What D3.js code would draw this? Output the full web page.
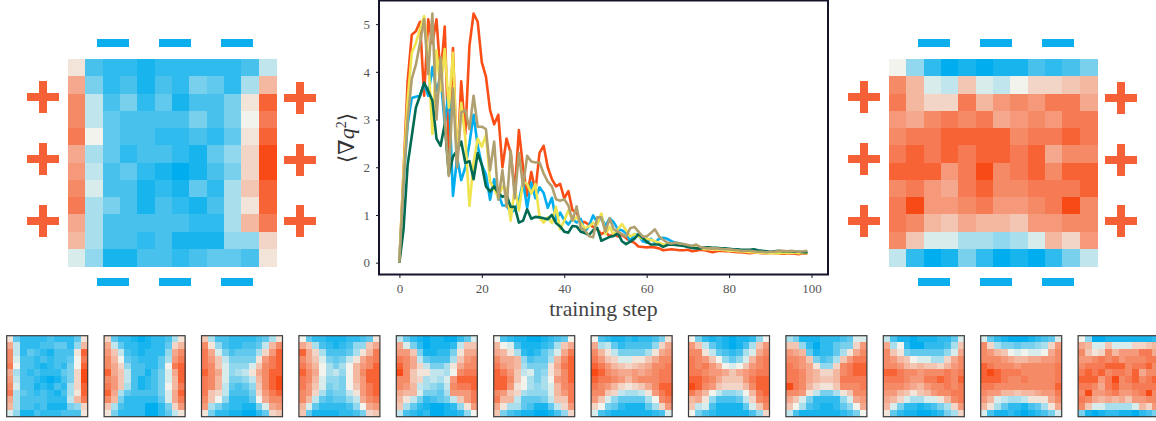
<!DOCTYPE html>
<html>
<head>
<meta charset="utf-8">
<script src="https://cdn.jsdelivr.net/npm/d3@7"></script>
<style>
  html, body { margin: 0; padding: 0; background: #fff; overflow: hidden; }
  svg { display: block; }
</style>
</head>
<body>
<svg id="chart" width="1156" height="421"></svg>
<script>
// training curves, one value per step
const steps = d3.range(100);
const orangeValues = [0,1.9,3.8,4.78,4.85,5.05,3.5,5.1,4.6,5.1,3.9,4.95,2.3,4.5,2.0,3.8,2.7,4.55,5.22,5.05,4.2,3.9,3.2,2.9,3.1,2.0,2.6,2.3,1.5,2.78,2.0,1.4,1.9,1.5,2.3,2.45,2.0,1.75,1.6,1.65,1.35,1.5,1.1,1.05,.85,.85,.8,.75,.7,.6,.65,.55,.6,.55,.58,.52,.45,.42,.34,.33,.32,.33,.32,.3,.26,.27,.28,.27,.26,.26,.27,.24,.25,.27,.26,.24,.22,.24,.25,.24,.24,.23,.22,.22,.21,.2,.21,.21,.2,.2,.21,.2,.2,.19,.19,.2,.19,.18,.2,.19];
const blueValues = [0,1.7,2.9,3.45,3.48,3.5,3.75,3.5,4.1,3.6,3.9,2.9,3.65,1.4,2.2,1.73,2.0,2.5,3.1,2.45,2.05,1.85,1.32,1.75,1.45,1.2,1.2,1.05,1.1,1.3,1.7,1.15,1.68,1.35,1.58,1.46,1.15,1.36,.89,1.05,.89,.8,.92,.84,.92,.65,.77,.99,.84,.95,.77,.93,.85,.7,.68,.62,.45,.6,.58,.45,.42,.5,.42,.5,.52,.5,.45,.42,.4,.38,.36,.35,.34,.32,.3,.3,.3,.29,.28,.28,.28,.27,.26,.25,.25,.26,.25,.24,.24,.23,.22,.22,.24,.23,.23,.22,.22,.21,.22,.22];
const yellowValues = [0,1.9,3.4,4.4,4.6,4.9,5.17,4.3,2.7,4.45,3.6,4.48,3.25,4.4,2.2,3.35,2.6,1.19,2.1,2.6,2.43,2.68,1.7,1.55,1.35,1.6,1.55,.88,1.57,1.1,1.7,1.65,1.45,1.65,.95,.84,.95,.83,1.17,.7,.88,1.1,.88,.95,.83,.72,.76,.83,.8,1.03,.6,.75,.58,.7,.81,.68,.55,.6,.55,.5,.5,.48,.45,.42,.38,.38,.4,.4,.38,.36,.35,.34,.33,.31,.28,.28,.28,.27,.27,.26,.25,.25,.24,.24,.23,.22,.22,.21,.21,.2,.2,.2,.2,.21,.2,.21,.21,.2,.21,.2];
const greenValues = [0,.7,2.05,2.65,3.25,3.5,3.77,3.6,3.4,2.6,2.45,2.9,1.85,2.22,2.35,2.54,2.09,2.13,1.75,2.3,2.05,1.6,1.49,1.6,1.46,1.38,1.42,1.17,1.17,.84,.88,1.12,.92,.96,.95,.93,.91,1.0,.83,.76,.65,.63,.77,.76,.65,.62,.58,.68,.73,.46,.5,.54,.56,.62,.45,.39,.44,.5,.6,.52,.44,.38,.38,.38,.33,.37,.38,.37,.36,.35,.33,.31,.3,.3,.32,.32,.31,.31,.3,.3,.29,.28,.28,.27,.27,.27,.28,.26,.25,.24,.23,.24,.25,.24,.24,.24,.23,.23,.22,.22];
const tanValues = [0,1.7,3.0,3.85,4.15,4.6,5.1,3.95,5.22,3.0,4.3,3.0,1.82,3.65,2.0,3.15,3.2,2.8,3.5,2.85,2.85,2.8,1.94,2.54,1.32,1.94,1.17,2.35,1.35,2.3,1.6,2.24,2.12,2.1,2.1,1.87,1.7,1.6,1.33,1.3,1.33,1.2,.88,1.18,.72,.68,.56,.53,.95,.95,.65,.93,.7,.65,.6,.55,.72,.75,.65,.55,.55,.62,.7,.55,.48,.42,.4,.42,.4,.39,.37,.35,.38,.33,.31,.3,.3,.3,.29,.28,.28,.27,.26,.25,.25,.25,.24,.23,.23,.22,.23,.23,.25,.25,.24,.25,.24,.23,.24,.25];

const seriesList = [
  { values: orangeValues, color: '#f94f16' },
  { values: blueValues, color: '#00aeef' },
  { values: yellowValues, color: '#f0e350' },
  { values: greenValues, color: '#006b52' },
  { values: tanValues, color: '#b0a070' }
];

const xTicks = [0, 20, 40, 60, 80, 100];
const yTicks = [0, 1, 2, 3, 4, 5];

// heatmaps, in tenths: - blue, + orange
const mapBefore = [
  [1,-7,-8,-8,-9,-8,-8,-8,-8,-8,-7,-2],
  [5,-5,-8,-7,-9,-7,-8,-5,-6,-8,-3,4],
  [7,-2,-7,-5,-8,-6,-9,-7,-7,-5,1,9],
  [7,-2,-6,-7,-7,-7,-7,-5,-7,-5,0,8],
  [8,0,-6,-7,-7,-8,-8,-7,-8,-6,1,9],
  [5,-3,-6,-8,-7,-7,-8,-9,-6,-4,2,10],
  [6,-2,-7,-6,-8,-9,-10,-9,-7,-5,2,10],
  [7,-1,-7,-7,-9,-8,-9,-6,-8,-3,3,9],
  [8,-3,-5,-7,-9,-7,-8,-9,-7,-3,1,9],
  [5,-3,-7,-7,-7,-7,-7,-8,-8,-3,4,8],
  [4,-3,-7,-7,-8,-7,-9,-9,-9,-4,-4,2],
  [-1,-4,-9,-9,-7,-7,-8,-7,-6,-6,-7,1]
];
const mapAfter = [
  [0,-4,-8,-10,-9,-10,-9,-9,-7,-8,-7,-5],
  [7,4,-1,-2,3,-1,-2,0,2,2,3,4],
  [8,4,2,2,8,4,6,7,6,8,8,5],
  [6,5,7,8,7,8,5,6,7,6,8,8],
  [7,8,8,9,9,9,9,7,8,8,9,8],
  [8,9,8,9,8,9,9,8,9,5,7,7],
  [9,9,9,6,8,10,7,8,9,7,9,9],
  [7,8,6,5,8,9,7,7,8,8,8,9],
  [8,10,6,6,7,8,6,6,7,8,10,7],
  [8,7,4,3,5,4,4,3,6,6,7,7],
  [7,3,-1,-1,-3,-3,-4,-3,-1,4,2,6],
  [-2,-8,-10,-9,-5,-8,-10,-9,-10,-8,-5,-2]
];

const frame1 = [
  [1,-6,-8,-8,-8,-8,-7,-8,-8,-8,-6,1],
  [5,-2,-8,-8,-8,-7,-7,-6,-6,-8,-4,4],
  [7,-2,-8,-6,-7,-8,-9,-7,-7,-7,1,9],
  [7,-1,-7,-7,-8,-7,-8,-7,-7,-6,0,8],
  [8,0,-7,-7,-8,-9,-8,-7,-8,-5,0,9],
  [5,-3,-7,-8,-7,-8,-8,-8,-6,-5,2,10],
  [6,-2,-7,-7,-8,-9,-10,-9,-7,-5,2,10],
  [7,-1,-7,-7,-9,-8,-9,-7,-8,-3,2,9],
  [8,-3,-6,-7,-8,-7,-8,-9,-7,-3,1,9],
  [5,-3,-7,-7,-7,-7,-8,-8,-8,-2,4,8],
  [4,-3,-7,-7,-8,-7,-9,-9,-9,-5,-4,2],
  [-1,-4,-9,-9,-7,-8,-8,-8,-7,-7,-7,1]
];
const frame2 = [
  [2,-6,-8,-8,-9,-10,-9,-8,-8,-7,-3,1],
  [5,-2,-6,-8,-8,-9,-9,-8,-8,-6,2,4],
  [6,3,-2,-7,-8,-9,-8,-8,-8,-4,5,7],
  [7,4,0,-6,-7,-8,-8,-8,-6,-3,6,8],
  [7,5,2,-4,-7,-7,-8,-8,-6,0,8,9],
  [9,5,3,-2,-7,-7,-9,-7,-5,-1,5,9],
  [7,6,3,-2,-7,-9,-8,-7,-5,-1,4,9],
  [8,6,3,-3,-7,-9,-8,-7,-5,0,4,8],
  [9,5,-3,-6,-7,-7,-7,-7,-5,-1,5,9],
  [7,4,-5,-8,-8,-8,-8,-8,-6,-1,5,8],
  [3,-3,-7,-8,-8,-8,-10,-10,-8,-5,2,6],
  [1,-5,-8,-8,-8,-8,-10,-10,-8,-6,-2,1]
];
const frame3 = [
  [3,-3,-7,-7,-8,-8,-8,-8,-7,-6,-3,1],
  [7,1,-4,-7,-8,-8,-7,-7,-6,-2,4,7],
  [8,5,-1,-5,-7,-6,-6,-6,-3,2,6,9],
  [8,6,3,-2,-5,-5,-5,-5,1,6,8,9],
  [8,7,3,-1,-4,-4,-4,-1,3,7,8,9],
  [9,7,5,-1,-4,-3,-2,1,5,7,9,9],
  [8,7,4,-1,-5,-5,-4,-2,4,7,9,10],
  [8,7,4,-2,-6,-7,-6,-4,3,7,9,10],
  [8,3,2,-2,-7,-7,-7,-5,2,6,8,9],
  [7,3,0,-4,-8,-8,-8,-6,0,5,7,7],
  [6,-3,-5,-7,-8,-8,-9,-9,-5,-1,5,6],
  [1,-5,-8,-8,-9,-9,-10,-10,-8,-6,2,3]
];
const frame4 = [
  [0,-6,-8,-8,-9,-9,-9,-8,-8,-7,-6,1],
  [5,3,-3,-7,-8,-9,-8,-7,-4,-4,3,5],
  [9,5,2,-3,-7,-7,-7,-6,-3,1,4,8],
  [7,5,3,-1,-5,-6,-5,-2,1,5,7,8],
  [8,6,4,0,-3,-5,-3,0,4,6,7,9],
  [9,7,5,0,-3,-2,-4,0,4,7,9,9],
  [8,7,4,-1,-4,-4,-5,0,4,6,9,9],
  [8,6,3,-1,-5,-4,-5,0,3,6,8,9],
  [7,6,2,-3,-6,-5,-5,-2,1,6,8,9],
  [7,4,-2,-6,-7,-6,-6,-4,-2,5,7,8],
  [4,-1,-6,-8,-8,-8,-8,-7,-4,0,5,6],
  [3,-6,-9,-9,-9,-9,-8,-8,-7,-5,2,3]
];
const frame5 = [
  [-2,-6,-8,-9,-10,-9,-9,-10,-10,-8,-6,-1],
  [5,-1,-5,-8,-10,-9,-9,-9,-8,-2,3,3],
  [6,6,3,-5,-9,-9,-8,-8,-5,1,5,5],
  [8,7,5,-2,-6,-7,-7,-7,-3,3,6,7],
  [9,7,5,2,-2,-5,-5,-3,1,5,7,7],
  [10,7,3,1,1,-2,-2,-3,0,7,8,8],
  [7,7,3,2,-3,-2,-3,-1,6,9,9,9],
  [7,6,4,-2,-3,-4,-5,-2,7,8,8,9],
  [5,4,4,-1,-5,-5,-6,-3,6,6,6,8],
  [4,1,-2,-5,-8,-7,-6,-5,-2,3,6,8],
  [3,-3,-6,-8,-9,-10,-10,-9,-8,-4,1,6],
  [-2,-7,-8,-9,-8,-10,-10,-9,-9,-8,-4,0]
];
const frame6 = [
  [0,-7,-8,-9,-9,-10,-10,-9,-8,-7,-6,0],
  [4,0,-1,-7,-9,-9,-9,-8,-7,-3,3,5],
  [5,4,1,-3,-8,-9,-8,-6,-4,-1,5,8],
  [7,5,5,4,-4,-7,-6,-6,-3,4,7,9],
  [8,6,5,4,-3,-5,-5,-5,1,5,8,9],
  [9,8,6,3,-2,-1,-5,-4,1,4,7,9],
  [9,9,7,3,0,-3,-5,-3,0,6,7,9],
  [9,9,6,1,0,-3,-4,-3,-1,4,7,8],
  [7,6,3,2,-3,-4,-4,-4,-1,4,6,8],
  [8,4,4,-2,-6,-6,-6,-5,-2,3,3,8],
  [5,1,-3,-3,-6,-7,-9,-9,-6,-2,2,6],
  [3,-5,-7,-8,-9,-9,-10,-10,-9,-7,-4,2]
];
const frame7 = [
  [0,-7,-8,-9,-9,-8,-9,-8,-8,-7,-5,1],
  [5,-3,-2,-6,-8,-7,-7,-7,-7,-4,2,5],
  [7,4,1,-2,-5,-5,-5,-5,-3,1,5,6],
  [8,6,3,2,-1,-1,1,1,3,5,7,7],
  [9,8,6,4,3,2,3,4,5,7,7,8],
  [10,9,7,6,5,5,6,5,6,7,8,8],
  [9,8,8,7,6,4,6,7,7,7,8,8],
  [8,7,6,4,2,1,2,3,5,7,9,9],
  [7,7,3,2,-2,-3,-3,-2,1,6,8,9],
  [6,3,-1,-4,-6,-6,-6,-6,-3,0,7,8],
  [2,0,-5,-6,-8,-9,-9,-9,-6,-3,2,6],
  [-1,-7,-8,-9,-9,-9,-9,-9,-9,-8,-7,-1]
];
const frame8 = [
  [0,-5,-8,-9,-8,-9,-10,-9,-9,-8,-4,0],
  [6,3,-2,-6,-8,-9,-10,-9,-7,-3,3,6],
  [7,7,1,-2,-6,-7,-8,-7,-3,-1,5,7],
  [8,7,6,3,0,-4,-6,-4,-1,4,7,8],
  [8,7,8,6,4,0,-1,0,3,6,7,8],
  [8,8,7,6,6,5,3,5,6,7,8,8],
  [9,9,8,7,5,3,3,3,6,8,9,9],
  [10,9,7,6,3,2,2,2,4,7,9,9],
  [8,6,4,0,-2,-4,-4,-3,0,4,8,9],
  [4,5,1,-4,-7,-7,-7,-6,-2,2,7,8],
  [3,-2,-1,-7,-9,-9,-9,-9,-6,-1,3,7],
  [0,-5,-7,-8,-9,-9,-9,-9,-9,-7,-4,2]
];
const frame9 = [
  [-3,-5,-9,-9,-9,-8,-8,-8,-7,-6,-1,-1],
  [3,3,-4,-8,-10,-8,-8,-6,-5,-5,2,6],
  [6,5,4,-6,-9,-8,-8,-6,-3,1,5,7],
  [7,7,6,3,-5,-7,-6,-3,3,6,8,8],
  [8,7,6,5,1,-4,-4,2,7,8,9,9],
  [8,8,7,5,4,2,2,4,7,8,9,9],
  [8,8,7,5,4,3,3,4,8,8,8,8],
  [10,8,7,4,2,1,1,3,7,7,7,8],
  [7,7,6,1,-2,-5,-5,-3,1,3,7,7],
  [5,3,-1,-5,-8,-8,-8,-8,-4,-1,5,6],
  [3,0,-3,-7,-8,-9,-9,-8,-6,-4,0,5],
  [-2,-7,-9,-9,-9,-9,-9,-9,-8,-7,-5,0]
];
const frame10 = [
  [-2,-7,-9,-9,-10,-9,-9,-9,-8,-8,-6,-1],
  [5,-3,0,-8,-10,-10,-8,-8,-8,-7,-3,3],
  [7,3,1,-5,-6,-6,-6,-6,-6,-4,-1,5],
  [7,6,4,3,0,-1,-1,-3,-3,2,5,7],
  [7,7,6,4,3,4,3,3,2,4,6,7],
  [9,9,8,7,7,6,7,7,7,8,7,8],
  [8,8,8,7,6,6,8,8,9,8,7,9],
  [7,7,7,6,5,4,6,7,7,8,7,8],
  [6,6,4,3,1,3,4,6,7,7,8,8],
  [5,4,2,-1,-3,-3,-1,-1,1,4,7,8],
  [4,-1,-5,-8,-8,-9,-8,-7,-5,-3,2,6],
  [1,-6,-8,-9,-9,-10,-10,-9,-8,-5,-3,2]
];
const frame11 = [
  [-1,-6,-8,-9,-10,-10,-10,-9,-8,-7,-6,-1],
  [7,2,-3,-5,-5,-6,-5,-5,-4,-3,2,6],
  [7,6,4,3,0,-1,0,-1,-1,0,5,7],
  [7,7,7,6,5,4,4,5,5,6,6,7],
  [9,8,7,7,7,6,7,7,7,7,7,8],
  [9,10,9,8,8,8,7,7,7,7,7,8],
  [9,9,9,8,7,7,8,7,7,7,7,8],
  [8,8,7,7,7,7,7,7,7,7,7,9],
  [7,6,6,4,4,3,4,4,5,6,6,8],
  [6,4,-1,-2,-3,-3,-2,1,1,1,5,7],
  [4,1,-3,-6,-8,-8,-9,-7,-6,-3,1,5],
  [-1,-7,-9,-9,-8,-9,-10,-9,-8,-7,-5,-1]
];
const frame12 = [
  [0,-4,-10,-10,-9,-9,-9,-9,-9,-9,-9,-8],
  [5,4,-1,-1,3,-1,-1,-1,2,2,3,4],
  [7,3,1,2,7,4,6,6,6,8,8,5],
  [6,6,7,8,7,8,6,7,7,7,8,8],
  [7,8,8,8,9,9,9,7,8,8,9,7],
  [8,9,8,9,7,8,8,7,9,5,7,7],
  [9,9,9,6,8,10,7,8,9,7,8,9],
  [8,8,7,5,8,9,7,7,8,8,8,8],
  [7,10,6,6,7,8,6,6,7,8,10,7],
  [8,7,5,4,5,4,5,3,6,6,7,7],
  [7,3,-1,-1,-3,-3,-3,-3,-1,4,2,6],
  [-5,-9,-10,-9,-8,-8,-9,-9,-10,-8,-7,-5]
];
const frames = [frame1, frame2, frame3, frame4, frame5, frame6, frame7, frame8, frame9, frame10, frame11, frame12];

const svg = d3.select('#chart');
const serif = '"Liberation Serif", "DejaVu Serif", serif';

const color = d3.scaleLinear()
  .domain([-10, 0, 8, 10])
  .range(['#00adee', '#f1f3ec', '#f67b54', '#f84a16']);

const cells = d3.range(12);

function drawMap(grid, left, top, width, height, framed) {
  const xBand = d3.scaleBand().domain(cells).range([left, left + width]);
  const yBand = d3.scaleBand().domain(cells).range([top, top + height]);
  const g = svg.append('g');
  g.selectAll('g').data(grid).join('g')
    .selectAll('rect').data((row, r) => row.map((v, c) => ({ v, c, r }))).join('rect')
    .attr('x', d => xBand(d.c))
    .attr('y', d => yBand(d.r))
    .attr('width', xBand.bandwidth() + 0.5)
    .attr('height', yBand.bandwidth() + 0.5)
    .attr('shape-rendering', 'crispEdges')
    .attr('fill', d => color(d.v));
  if (framed) {
    g.append('rect')
      .attr('x', left).attr('y', top)
      .attr('width', width).attr('height', height)
      .attr('fill', 'none')
      .attr('stroke', '#3a3a3a')
      .attr('stroke-width', 1.2);
  }
}

// main heatmaps
drawMap(mapBefore, 68, 59, 208, 207, false);
drawMap(mapAfter, 889, 59, 208, 207, false);

// charge signs around them
const plusColor = '#f56036';
const minusColor = '#0caeee';
function plus(cx, cy) {
  svg.append('rect').attr('x', cx - 16).attr('y', cy - 4).attr('width', 32).attr('height', 8).attr('fill', plusColor);
  svg.append('rect').attr('x', cx - 4).attr('y', cy - 16).attr('width', 8).attr('height', 32).attr('fill', plusColor);
}
function minus(x, y) {
  svg.append('rect').attr('x', x).attr('y', y).attr('width', 32).attr('height', 8).attr('fill', minusColor);
}
[43, 864].forEach(cx => [97, 159, 221].forEach(cy => plus(cx, cy)));
[300, 1121].forEach(cx => [98, 160, 221].forEach(cy => plus(cx, cy)));
[97, 159, 221, 918, 980, 1042].forEach(x => [39, 278].forEach(y => minus(x, y)));

// small frames along the bottom
frames.forEach((grid, i) => drawMap(grid, 6.7 + i * 97.4, 335.7, 81, 81, true));

// curve panel
const x = d3.scaleLinear().domain([-4.95, 104]).range([379, 828]);
const y = d3.scaleLinear().domain([-0.25, 5.5]).range([274.6, 0.3]);

const line = d3.line().x((d, i) => x(steps[i])).y(d => y(d));
svg.append('g').selectAll('path').data(seriesList).join('path')
  .attr('d', d => line(d.values))
  .attr('fill', 'none')
  .attr('stroke', d => d.color)
  .attr('stroke-width', 2.6)
  .attr('stroke-linejoin', 'round');

svg.append('rect')
  .attr('x', 379).attr('y', 0.5)
  .attr('width', 449).attr('height', 274)
  .attr('fill', 'none')
  .attr('stroke', '#14142a')
  .attr('stroke-width', 2);

const xAxis = svg.append('g')
  .attr('transform', 'translate(0,275)')
  .call(d3.axisBottom(x).tickValues(xTicks).tickFormat(d3.format('d')).tickSize(3).tickPadding(6));
const yAxis = svg.append('g')
  .attr('transform', 'translate(379,0)')
  .call(d3.axisLeft(y).tickValues(yTicks).tickFormat(d3.format('d')).tickSize(3).tickPadding(6));
[xAxis, yAxis].forEach(a => {
  a.select('.domain').remove();
  a.selectAll('line').attr('stroke', '#14142a').attr('stroke-width', 1);
  a.selectAll('text').attr('font-family', serif).attr('font-size', 13).attr('fill', '#555');
});

svg.append('text')
  .attr('x', 603.5).attr('y', 316)
  .attr('text-anchor', 'middle')
  .attr('font-family', serif)
  .attr('font-size', 21.8)
  .attr('fill', '#444')
  .text('training step');

const yLabel = svg.append('text')
  .attr('transform', 'translate(354,138) rotate(-90)')
  .attr('text-anchor', 'middle')
  .attr('font-family', serif)
  .attr('font-size', 22)
  .attr('fill', '#333');
yLabel.append('tspan').text('⟨∇');
yLabel.append('tspan').attr('font-style', 'italic').text('q');
yLabel.append('tspan').attr('font-size', 14).attr('dy', -8).text('2');
yLabel.append('tspan').attr('dy', 8).text('⟩');
</script>
</body>
</html>
